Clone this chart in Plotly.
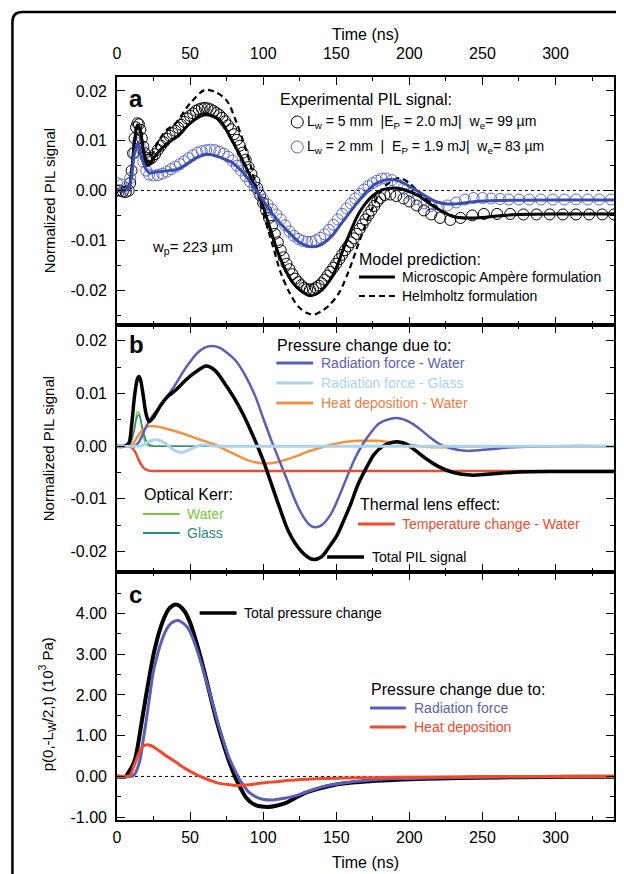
import plotly.graph_objects as go

# ---------------- DATA ----------------
# Panel a: experimental PIL signal (Lw = 5 mm), open black circles
a_exp5_t = [0, 2, 4, 6, 8, 9, 10, 11, 12, 13, 14, 15, 16, 17, 18, 19, 20, 21, 22, 24, 26, 28, 30, 32, 34, 36, 38, 40,
            42, 44, 46, 48, 50, 52, 54, 56, 58, 60, 62, 64, 66, 68, 70, 72, 74, 76, 78, 80, 82, 84, 86, 88, 90, 92, 94,
            96, 98, 100, 102, 104, 106, 108, 110, 112, 114, 116, 118, 120, 122, 124, 126, 128, 130, 132, 134, 136, 138,
            140, 142, 144, 146, 148, 150, 152, 154, 156, 158, 160, 162, 164, 166, 168, 170, 172, 174, 176, 178, 180,
            183, 187, 191, 196, 200, 205, 210, 215, 221, 228, 235, 243, 251, 260, 269, 278, 287, 296, 305, 314, 323,
            332, 340]
a_exp5_v = [0.0, 0.0, -0.0002, -0.0003, 0.0, 0.0015, 0.004, 0.0075, 0.0105, 0.0127, 0.0135, 0.0133, 0.0122, 0.0105,
            0.0088, 0.0075, 0.0066, 0.0062, 0.0062, 0.0066, 0.0073, 0.0082, 0.0090, 0.0097, 0.0104, 0.0110, 0.0115,
            0.0120, 0.0126, 0.0132, 0.0138, 0.0145, 0.0150, 0.0155, 0.0160, 0.0163, 0.0165, 0.0166, 0.0165, 0.0163,
            0.0160, 0.0156, 0.0152, 0.0146, 0.0139, 0.0131, 0.0123, 0.0113, 0.0102, 0.0090, 0.0076, 0.0062, 0.0047,
            0.0033, 0.0019, 0.0005, -0.0010, -0.0025, -0.0040, -0.0055, -0.0071, -0.0087, -0.0104, -0.0120, -0.0134,
            -0.0147, -0.0158, -0.0168, -0.0177, -0.0184, -0.0190, -0.0195, -0.0198, -0.0199, -0.0198, -0.0195,
            -0.0191, -0.0186, -0.0179, -0.0171, -0.0163, -0.0155, -0.0147, -0.0138, -0.0129, -0.0120, -0.0112,
            -0.0104, -0.0096, -0.0087, -0.0077, -0.0068, -0.0058, -0.0049, -0.0040, -0.0031, -0.0022, -0.0015,
            -0.0009, -0.0008, -0.0011, -0.0016, -0.0022, -0.0030, -0.0040, -0.0048, -0.0055, -0.0059, -0.0055,
            -0.0050, -0.0047, -0.0047, -0.0047, -0.0048, -0.0048, -0.0048, -0.0048, -0.0048, -0.0048, -0.0048,
            -0.0048]

# Panel a: experimental PIL signal (Lw = 2 mm), open blue circles
a_exp2_t = [0, 3, 6, 9, 12, 14, 16, 18, 20, 22, 25, 28, 31, 34, 37, 40, 43, 46, 49, 52, 55, 58, 61, 64, 67, 70, 73,
            76, 79, 82, 85, 88, 91, 94, 97, 100, 103, 106, 109, 112, 115, 118, 121, 124, 127, 130, 133, 136, 139, 142,
            145, 148, 151, 154, 157, 160, 163, 166, 169, 172, 175, 178, 181, 184, 188, 192, 196, 200, 205, 210, 215,
            220, 226, 232, 238, 244, 250, 256, 262, 268, 275, 282, 290, 298, 306, 314, 322, 330, 338]
a_exp2_v = [0.0015, 0.0012, 0.0005, 0.0025, 0.0075, 0.0095, 0.0085, 0.0058, 0.0040, 0.0032, 0.0030, 0.0031, 0.0034,
            0.0038, 0.0043, 0.0048, 0.0053, 0.0059, 0.0065, 0.0071, 0.0076, 0.0079, 0.0081, 0.0082, 0.0081, 0.0078,
            0.0074, 0.0068, 0.0060, 0.0050, 0.0040, 0.0029, 0.0018, 0.0008, -0.0004, -0.0018, -0.0028, -0.0038,
            -0.0048, -0.0058, -0.0070, -0.0082, -0.0091, -0.0097, -0.0101, -0.0103, -0.0103, -0.0100, -0.0095,
            -0.0088, -0.0079, -0.0069, -0.0058, -0.0047, -0.0036, -0.0026, -0.0016, -0.0007, 0.0002, 0.0009, 0.0015,
            0.0020, 0.0024, 0.0024, 0.0021, 0.0013, 0.0004, -0.0006, -0.0017, -0.0026, -0.0031, -0.0033, -0.0030,
            -0.0024, -0.0018, -0.0015, -0.0015, -0.0016, -0.0017, -0.0018, -0.0018, -0.0018, -0.0018, -0.0018,
            -0.0018, -0.0018, -0.0018, -0.0018, -0.0018]

# Panel a: model, microscopic Ampere formulation (Lw = 5 mm)
a_amp_t = [0, 5, 8, 10, 12, 14, 16, 18, 21, 25, 30, 36, 42, 50, 60, 70, 79, 86, 91, 95, 97.4, 104, 111, 120, 126, 132,
           138, 147.5, 156.5, 165.6, 174.6, 182, 190.6, 198, 206.5, 217.8, 230, 240, 250, 260, 275, 300, 340]
a_amp_v = [0, 0, 0.0005, 0.004, 0.010, 0.0132, 0.012, 0.008, 0.005, 0.0065, 0.0083, 0.0098, 0.011, 0.0135, 0.0152,
           0.0142, 0.0099, 0.006, 0.003, 0.0003, -0.0011, -0.0069, -0.0131, -0.0184, -0.0202, -0.0211, -0.0205,
           -0.0171, -0.0105, -0.0045, -0.0011, 0.0002, 0.0005, 0.0, -0.0011, -0.0034, -0.0052, -0.0055, -0.0054,
           -0.0051, -0.0048, -0.0047, -0.0047]

# Panel a: model, Helmholtz formulation (Lw = 5 mm)
a_helm_t = [0, 5, 8, 10, 12, 14, 16, 18, 21, 25, 29, 34, 40, 50, 60, 67, 74.7, 82, 90.6, 95, 100, 106, 112, 118, 124,
            130, 135, 140, 145, 152, 159, 166, 174, 182, 192.8, 200, 207, 218, 230, 240, 250, 260, 275, 300, 340]
a_helm_v = [0, 0, 0.0005, 0.004, 0.010, 0.013, 0.0122, 0.0085, 0.0058, 0.0078, 0.0102, 0.0122, 0.0135, 0.0175, 0.0202,
            0.0198, 0.0182, 0.0135, 0.0059, 0.0010, -0.0045, -0.0105, -0.0165, -0.0205, -0.0233, -0.0246, -0.0249,
            -0.0242, -0.0231, -0.0205, -0.0158, -0.0100, -0.0040, 0.0005, 0.0025, 0.0015, -0.0005, -0.0032, -0.0052,
            -0.0056, -0.0054, -0.0051, -0.0048, -0.0047, -0.0047]

# Panel a: model for Lw = 2 mm
a_mod2_t = [0, 5, 8, 10, 12, 14.5, 17, 20, 22.5, 26, 30, 35, 40.6, 45, 50, 55, 61, 66, 72, 79, 85, 90, 94, 100, 104,
            110, 118, 124, 129, 134, 140, 147, 153, 159, 165, 170, 176, 182, 186, 192, 198, 204, 211, 218, 226, 235,
            245, 260, 300, 340]
a_mod2_v = [0, 0, 0.0005, 0.003, 0.0075, 0.0095, 0.0065, 0.0042, 0.0035, 0.0037, 0.0038, 0.0040, 0.0042, 0.0048,
            0.0058, 0.0067, 0.0073, 0.0071, 0.0065, 0.0056, 0.0040, 0.0022, 0.0005, -0.0020, -0.0038, -0.0060,
            -0.0085, -0.0102, -0.0110, -0.0113, -0.0108, -0.0091, -0.0068, -0.0045, -0.0022, -0.0005, 0.0012, 0.0020,
            0.0022, 0.0020, 0.0012, 0.0002, -0.0011, -0.0022, -0.0027, -0.0026, -0.0022, -0.0020, -0.0019, -0.0019]

# Panel b: contributions to the normalized PIL signal
b_total_t = [0, 5, 8, 10, 12, 14, 15, 16, 18, 20, 22, 25, 30, 35, 40, 48, 55, 61, 67, 73, 80, 86, 93, 100, 106, 111,
             117, 122, 128, 134, 140, 145, 150, 155, 160, 165, 171, 176, 182, 188, 193, 198, 204, 212, 220, 230, 242,
             255, 275, 300, 340]
b_total_v = [0, 0, 0.0005, 0.004, 0.0095, 0.0128, 0.0132, 0.0127, 0.0095, 0.0060, 0.0047, 0.0055, 0.0078, 0.0095,
             0.0106, 0.0128, 0.0143, 0.0152, 0.0144, 0.0122, 0.0092, 0.0062, 0.0020, -0.0027, -0.0075, -0.0115,
             -0.0160, -0.0185, -0.0205, -0.0215, -0.0210, -0.0192, -0.0172, -0.0142, -0.0109, -0.0072, -0.0039,
             -0.0015, 0.0000, 0.0007, 0.0008, 0.0004, -0.0008, -0.0025, -0.0039, -0.0050, -0.0055, -0.0053, -0.0049,
             -0.0048, -0.0048]

b_radw_t = [0, 12, 15, 18, 21, 25, 30, 35, 40, 45, 50, 55, 60, 65, 70, 75, 81, 88, 94.7, 100, 105.6, 111, 116.5, 122,
            127.4, 132, 135.6, 140, 146.5, 152, 157.4, 163, 168.4, 174, 179.2, 186, 192.8, 200, 206.5, 213, 220, 228,
            239, 255, 270, 300, 340]
b_radw_v = [0, 0, 0.0008, 0.0025, 0.0043, 0.0060, 0.0077, 0.0097, 0.0117, 0.0140, 0.0160, 0.0177, 0.0187, 0.0190,
            0.0187, 0.0178, 0.0163, 0.0133, 0.0094, 0.0053, 0.0011, -0.0027, -0.0065, -0.0104, -0.0134, -0.0150,
            -0.0154, -0.0150, -0.0128, -0.0095, -0.0058, -0.0022, 0.0005, 0.0027, 0.0043, 0.0051, 0.0053, 0.0046,
            0.0034, 0.0019, 0.0005, -0.0004, -0.0009, -0.0006, -0.0002, 0.0, 0.0]

b_radg_t = [0, 15, 18, 22, 26, 30, 34, 38, 42, 46, 50, 54, 58, 62, 66, 70, 80, 340]
b_radg_v = [0, 0, 0.0002, 0.0009, 0.0012, 0.0010, 0.0003, -0.0006, -0.0011, -0.0011, -0.0006, -0.0001, 0.0002, 0.0002,
            0.0, 0.0, 0.0, 0.0]

b_heat_t = [0, 8, 11, 14, 18, 22, 28, 35, 45, 55, 65, 75, 84, 92, 101, 110, 122, 130, 138, 147, 156, 165, 171, 178,
            186, 193, 200, 207, 215, 225, 235, 250, 340]
b_heat_v = [0, 0, 0.0005, 0.0018, 0.0032, 0.0038, 0.0037, 0.0032, 0.0024, 0.0014, 0.0005, -0.0008, -0.0020, -0.0029,
            -0.0033, -0.0030, -0.0020, -0.0011, -0.0004, 0.0003, 0.0008, 0.0010, 0.0010, 0.0010, 0.0008, 0.0006,
            0.0003, 0.0, -0.0002, -0.0002, -0.0001, 0.0, 0.0]

b_kerrw_t = [0, 6, 8, 10, 12, 13, 14, 15, 16, 17, 18, 20, 22, 25, 340]
b_kerrw_v = [0, 0, 0.0002, 0.0012, 0.0038, 0.0055, 0.0065, 0.0064, 0.0052, 0.0034, 0.0018, 0.0004, 0.0, 0.0, 0.0]

b_kerrg_t = [0, 6, 8, 10, 12, 13, 14, 15, 16, 17, 18, 20, 22, 25, 30, 340]
b_kerrg_v = [0, 0, 0.0002, 0.0011, 0.0033, 0.0048, 0.0057, 0.0059, 0.0052, 0.0040, 0.0027, 0.0010, 0.0003, 0.0, 0.0,
             0.0]

b_temp_t = [0, 6, 9, 11, 13, 15, 17, 19, 21, 23, 26, 340]
b_temp_v = [0, 0, -0.0001, -0.0005, -0.0014, -0.0027, -0.0037, -0.0043, -0.0046, -0.0047, -0.0047, -0.0047]

# Panel c: pressure p(0,-Lw/2,t) in 10^3 Pa
c_total_t = [0, 6, 7.7, 10, 12.3, 14, 15.7, 18, 20.2, 22.5, 24.7, 27, 29.3, 32, 35, 37.5, 40.2, 43, 46.3, 50, 53.1, 57,
             61.1, 64.5, 67.9, 71.3, 74.7, 78, 81.5, 85, 88.3, 91.7, 95.2, 99, 103.1, 109, 115.6, 122, 129.2, 137,
             146, 156, 168, 182, 200, 220, 245, 275, 310, 340]
c_total_v = [0, 0, 0.09, 0.22, 0.42, 0.70, 1.07, 1.58, 2.05, 2.52, 2.95, 3.30, 3.60, 3.87, 4.09, 4.18, 4.22, 4.18,
             4.05, 3.78, 3.44, 2.95, 2.38, 1.88, 1.40, 0.97, 0.58, 0.24, -0.07, -0.32, -0.52, -0.64, -0.71, -0.74,
             -0.75, -0.72, -0.65, -0.53, -0.40, -0.31, -0.23, -0.17, -0.13, -0.10, -0.07, -0.05, -0.03, -0.02, -0.01,
             -0.01]

c_rad_t = [0, 10, 12, 14, 16, 18, 19.7, 21.4, 23, 24.7, 27, 29.3, 32, 35, 38, 41.8, 45, 48.6, 52, 55.4, 58.8, 62.2,
           65.6, 69, 72.4, 75.8, 79.7, 83.8, 87, 90.6, 95, 99.7, 106.5, 114, 122.4, 131.5, 142, 155, 170, 190, 215,
           250, 300, 340]
c_rad_v = [0, 0, 0.05, 0.20, 0.45, 0.91, 1.30, 1.72, 2.13, 2.54, 2.90, 3.19, 3.47, 3.68, 3.79, 3.83, 3.77, 3.64, 3.38,
           3.03, 2.63, 2.21, 1.76, 1.32, 0.92, 0.54, 0.22, -0.07, -0.24, -0.40, -0.50, -0.56, -0.58, -0.54, -0.47,
           -0.36, -0.24, -0.16, -0.10, -0.06, -0.04, -0.02, -0.01, 0.0]

c_heat_t = [0, 7, 8.6, 10, 11.5, 13.4, 15, 16.8, 18.7, 20.7, 23, 26, 29.3, 33, 37, 40.7, 45, 49.7, 54, 58.8, 64, 70.2,
            76, 81.5, 88, 97.4, 105, 113.3, 121, 129.2, 140, 155, 175, 200, 240, 290, 340]
c_heat_v = [0, 0, 0.02, 0.10, 0.25, 0.42, 0.57, 0.70, 0.76, 0.78, 0.76, 0.70, 0.62, 0.52, 0.43, 0.34, 0.23, 0.13, 0.05,
            -0.03, -0.10, -0.17, -0.20, -0.22, -0.21, -0.17, -0.14, -0.11, -0.09, -0.07, -0.05, -0.04, -0.03, -0.02,
            -0.01, 0.0, 0.0]

# Tick labels
x_tickvals = [0, 50, 100, 150, 200, 250, 300]
x_ticktext = ["0", "50", "100", "150", "200", "250", "300"]
ab_tickvals = [-0.02, -0.01, 0.0, 0.01, 0.02]
ab_ticktext = ["-0.02", "-0.01", "0.00", "0.01", "0.02"]
c_tickvals = [-1, 0, 1, 2, 3, 4]
c_ticktext = ["-1.00", "0.00", "1.00", "2.00", "3.00", "4.00"]

# ---------------- LAYOUT GEOMETRY ----------------
# The page body adds an 8 px offset; positions below are given in page pixels.
OFF = 8
W, H = 624 - OFF, 874 - OFF
ML = 117 - OFF
MT = 77 - OFF
MR = 624 - 616
MB = 874 - 820
PW, PH = W - ML - MR, H - MT - MB
FONT = "Liberation Sans, Arial, Helvetica, sans-serif"


def px(xp):
    return (xp - 117) / PW


def py(yp):
    return (820 - yp) / PH


dom_c = [0, py(572)]
dom_b = [py(572), py(325)]
dom_a = [py(325), 1]

BLACK = "#000000"
BLUE_EXP = "#5a6ac6"
BLUE_MOD = "#3d4dac"
RADW = "#5a5fb6"
RADG = "#a9d5ec"
ORANGE = "#f4913f"
ORANGE_T = "#f07c45"
GREEN = "#7cc63a"
TEAL = "#2d8a80"
RED = "#ef4a2c"

fig = go.Figure()

SPL = dict(shape="spline", smoothing=0.9)

# Panel a
fig.add_trace(go.Scatter(x=a_exp5_t, y=a_exp5_v, mode="markers", xaxis="x", yaxis="y",
                         marker=dict(symbol="circle-open", size=11, color=BLACK, line=dict(width=1))))
fig.add_trace(go.Scatter(x=a_exp2_t, y=a_exp2_v, mode="markers", xaxis="x", yaxis="y",
                         marker=dict(symbol="circle-open", size=11, color=BLUE_EXP, line=dict(width=1))))
fig.add_trace(go.Scatter(x=a_helm_t, y=a_helm_v, mode="lines", xaxis="x", yaxis="y",
                         line=dict(color=BLACK, width=2.2, dash="6px,4px", **SPL)))
fig.add_trace(go.Scatter(x=a_amp_t, y=a_amp_v, mode="lines", xaxis="x", yaxis="y",
                         line=dict(color=BLACK, width=3, **SPL)))
fig.add_trace(go.Scatter(x=a_mod2_t, y=a_mod2_v, mode="lines", xaxis="x", yaxis="y",
                         line=dict(color=BLUE_MOD, width=3, **SPL)))

# Panel b
for tt, vv, col, w in [(b_kerrw_t, b_kerrw_v, GREEN, 1.5), (b_kerrg_t, b_kerrg_v, TEAL, 1.5),
                       (b_heat_t, b_heat_v, ORANGE, 2.5), (b_radw_t, b_radw_v, RADW, 2.5),
                       (b_temp_t, b_temp_v, RED, 2.5), (b_total_t, b_total_v, BLACK, 3.5),
                       (b_radg_t, b_radg_v, RADG, 3)]:
    fig.add_trace(go.Scatter(x=tt, y=vv, mode="lines", xaxis="x2", yaxis="y2",
                             line=dict(color=col, width=w, **SPL)))

# Panel c
for tt, vv, col, w in [(c_total_t, c_total_v, BLACK, 4), (c_rad_t, c_rad_v, RADW, 3),
                       (c_heat_t, c_heat_v, RED, 3)]:
    fig.add_trace(go.Scatter(x=tt, y=vv, mode="lines", xaxis="x3", yaxis="y3",
                             line=dict(color=col, width=w, **SPL)))

axis_common = dict(showline=True, linecolor="black", linewidth=1.6, mirror="ticks", ticks="inside",
                   ticklen=8, tickwidth=1.4, tickcolor="black", showgrid=False, zeroline=False,
                   tickfont=dict(family=FONT, size=16, color="black"))

xminor = dict(dtick=25, tick0=0, ticklen=4, tickwidth=1.2, tickcolor="black", ticks="inside", showgrid=False)


def yminor(d):
    return dict(dtick=d, tick0=0, ticklen=4, tickwidth=1.2, ticks="inside", tickcolor="black", showgrid=False)


fig.update_layout(
    width=W, height=H, autosize=False,
    margin=dict(l=ML, r=MR, t=MT, b=MB),
    paper_bgcolor="white", plot_bgcolor="white", showlegend=False,
    font=dict(family=FONT, color="black"),
    xaxis=dict(domain=[0, 1], anchor="y", range=[0, 340], side="top", tickmode="array",
               tickvals=x_tickvals, ticktext=x_ticktext, minor=xminor, ticklabelstandoff=10, **axis_common),
    xaxis2=dict(domain=[0, 1], anchor="y2", range=[0, 340], tickmode="array", tickvals=x_tickvals,
                showticklabels=False, minor=xminor, **axis_common),
    xaxis3=dict(domain=[0, 1], anchor="y3", range=[0, 340], tickmode="array", tickvals=x_tickvals,
                ticktext=x_ticktext, minor=xminor, ticklabelstandoff=2, **axis_common),
    yaxis=dict(domain=dom_a, anchor="x", range=[-0.0270, 0.0228], tickmode="array", tickvals=ab_tickvals,
               ticktext=ab_ticktext, minor=yminor(0.005), ticklabelstandoff=5, **axis_common),
    yaxis2=dict(domain=dom_b, anchor="x2", range=[-0.0239, 0.0230], tickmode="array", tickvals=ab_tickvals,
                ticktext=ab_ticktext, minor=yminor(0.005), ticklabelstandoff=5, **axis_common),
    yaxis3=dict(domain=dom_c, anchor="x3", range=[-1.07, 5.02], tickmode="array", tickvals=c_tickvals,
                ticktext=c_ticktext, minor=yminor(0.5), ticklabelstandoff=5, **axis_common),
)

shapes = []
# dotted zero lines
shapes.append(dict(type="line", xref="x domain", yref="y", x0=0, x1=1, y0=0, y1=0, layer="below",
                   line=dict(color="black", width=1, dash="dot")))
shapes.append(dict(type="line", xref="x3 domain", yref="y3", x0=0, x1=1, y0=0, y1=0, layer="below",
                   line=dict(color="black", width=1, dash="dot")))

# outer rounded frame
fx, fy, r = px(12), py(12), 10
frame = (f"M {fx:.4f},{py(890):.4f} L {fx:.4f},{py(12 + r):.4f} "
         f"Q {fx:.4f},{fy:.4f} {px(12 + r):.4f},{fy:.4f} L {px(640):.4f},{fy:.4f}")
shapes.append(dict(type="path", xref="paper", yref="paper", path=frame, line=dict(color="black", width=2.5)))


def seg(x0, x1, y, color, width=3, dash=None):
    ln = dict(color=color, width=width)
    if dash:
        ln["dash"] = dash
    shapes.append(dict(type="line", xref="paper", yref="paper", x0=px(x0), x1=px(x1), y0=py(y), y1=py(y),
                       line=ln))


def circ(x, y, color):
    shapes.append(dict(type="circle", xref="paper", yref="paper", xsizemode="pixel", ysizemode="pixel",
                       xanchor=px(x), yanchor=py(y), x0=-6, x1=6, y0=-6, y1=6,
                       line=dict(color=color, width=1)))


# legend samples
circ(298, 122, BLACK)
circ(298, 147, BLUE_EXP)
seg(360, 396, 277, BLACK, 3)
seg(360, 396, 296, BLACK, 2.2, "6px,4px")
seg(277, 314, 363, RADW, 3)
seg(277, 314, 383, RADG, 3)
seg(277, 314, 403, ORANGE, 3)
seg(143, 180, 514, GREEN, 1.8)
seg(143, 180, 533, TEAL, 1.8)
seg(359, 396, 524, RED, 3)
seg(328, 365, 557, BLACK, 3.5)
seg(200, 237, 613, BLACK, 3.5)
seg(371, 407, 708, RADW, 3)
seg(371, 407, 727, RED, 3)

fig.update_layout(shapes=shapes)

ann = []


def txt(x, y, s, size=14, color="black", anchor="left", angle=0, bold=False):
    ann.append(dict(xref="paper", yref="paper", x=px(x), y=py(y), text=(f"<b>{s}</b>" if bold else s),
                    showarrow=False, xanchor=anchor, yanchor="middle", textangle=angle,
                    font=dict(family=FONT, size=size, color=color)))


HEAD = 16
ITEM = 14

# axis titles
txt(366, 35, "Time (ns)", 16, anchor="center")
txt(367, 862, "Time (ns)", 16, anchor="center")
txt(49, 201, "Normalized PIL signal", 15, anchor="center", angle=-90)
txt(49, 449, "Normalized PIL signal", 15, anchor="center", angle=-90)
txt(46, 704, "p(0,-L<sub>W</sub>/2,t) (10<sup>3</sup> Pa)", 15, anchor="center", angle=-90)

# panel letters
txt(127, 98, "a", 24, bold=True)
txt(127, 344, "b", 24, bold=True)
txt(127, 595, "c", 24, bold=True)

# panel a texts
txt(279, 100, "Experimental PIL signal:", HEAD)
txt(306, 122, "L<sub>w</sub> = 5 mm  |E<sub>P</sub> = 2.0 mJ|  w<sub>e</sub>= 99 µm", 14)
txt(306, 147, "L<sub>w</sub> = 2 mm  |  E<sub>P</sub> = 1.9 mJ|  w<sub>e</sub>= 83 µm", 14)
txt(150, 248, "w<sub>p</sub>= 223 µm", 15)
txt(358, 259, "Model prediction:", HEAD)
txt(401, 277, "Microscopic Ampère formulation", ITEM)
txt(401, 296, "Helmholtz formulation", ITEM)

# panel b texts
txt(276, 345, "Pressure change due to:", HEAD)
txt(320, 363, "Radiation force - Water", ITEM, RADW)
txt(320, 383, "Radiation force - Glass", ITEM, RADG)
txt(320, 403, "Heat deposition - Water", ITEM, ORANGE_T)
txt(142, 494, "Optical Kerr:", HEAD)
txt(185, 514, "Water", ITEM, GREEN)
txt(185, 533, "Glass", ITEM, TEAL)
txt(359, 504, "Thermal lens effect:", HEAD)
txt(401, 524, "Temperature change - Water", ITEM, RED)
txt(371, 557, "Total PIL signal", ITEM)

# panel c texts
txt(243, 613, "Total pressure change", ITEM)
txt(370, 689, "Pressure change due to:", HEAD)
txt(413, 708, "Radiation force", ITEM, RADW)
txt(413, 727, "Heat deposition", ITEM, RED)

fig.update_layout(annotations=ann)

fig.write_html("out.html")
